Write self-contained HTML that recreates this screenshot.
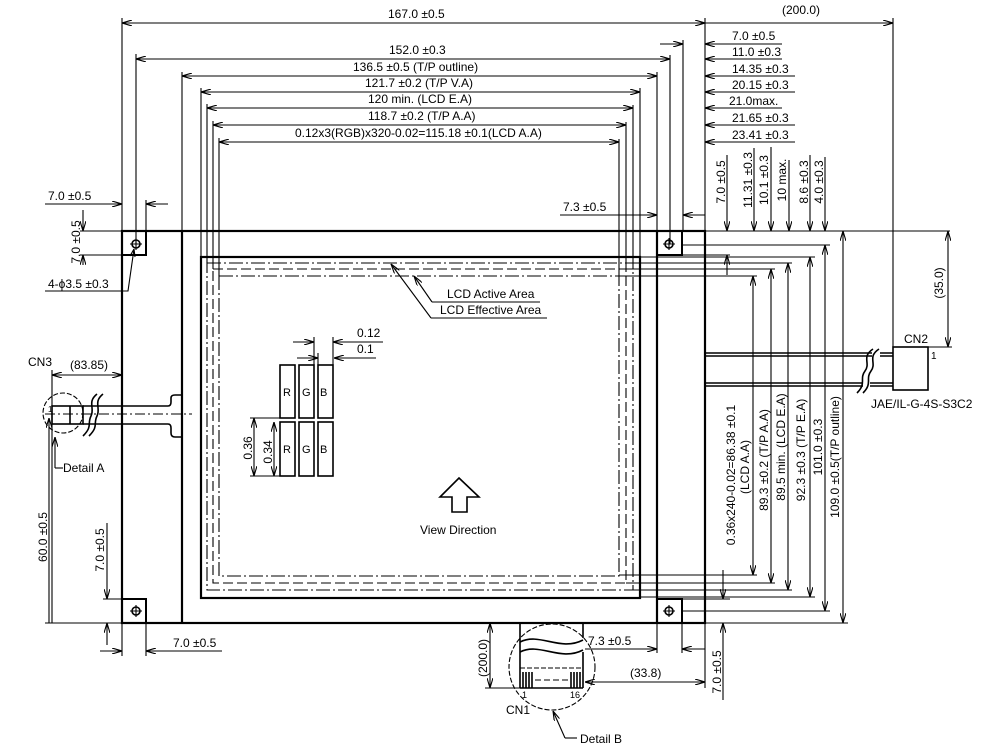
<!DOCTYPE html>
<html><head><meta charset="utf-8"><style>
html,body{margin:0;padding:0;background:#fff;}
svg{display:block;}
text{font-family:"Liberation Sans",Arial,sans-serif;font-size:12px;fill:#000;}
</style></head><body>
<svg width="1005" height="754" viewBox="0 0 1005 754" xmlns="http://www.w3.org/2000/svg">
<defs>
<marker id="a" viewBox="0 0 10 6" refX="10" refY="3" markerWidth="10" markerHeight="6" markerUnits="userSpaceOnUse" orient="auto-start-reverse"><path d="M0,0 L10,3 L0,6" fill="none" stroke="#000" stroke-width="1.1"/></marker>
</defs>
<g stroke="#000" fill="none" stroke-width="1.1">
<rect x="122" y="231" width="583" height="392" stroke-width="2.2"/>
<line x1="182" y1="231" x2="182" y2="623" stroke-width="2.2"/>
<line x1="657" y1="231" x2="657" y2="623" stroke-width="2.2"/>
<rect x="122" y="231" width="24" height="24" stroke-width="2"/>
<rect x="657" y="231" width="25" height="24" stroke-width="2"/>
<rect x="122" y="599" width="24" height="24" stroke-width="2"/>
<rect x="657" y="599" width="25" height="24" stroke-width="2"/>
<g stroke-width="1.6">
<circle cx="136" cy="244" r="4"/><circle cx="669" cy="244" r="4"/>
<circle cx="136" cy="611" r="4"/><circle cx="669" cy="611" r="4"/>
</g>
<path d="M130,244h12M136,238v12M663,244h12M669,238v12M130,611h12M136,605v12M663,611h12M669,605v12"/>
<rect x="201" y="257" width="439" height="341" stroke-width="2.2"/>
<rect x="207" y="263" width="426" height="327" stroke-dasharray="14,3,2,3"/>
<rect x="213" y="269" width="413" height="314" stroke-dasharray="10,4"/>
<rect x="219" y="276" width="400" height="300" stroke-dasharray="14,3,2,3"/>
<line x1="122" y1="23" x2="705" y2="23" marker-start="url(#a)" marker-end="url(#a)"/>
<line x1="705" y1="23" x2="893" y2="23" marker-end="url(#a)"/>
<line x1="136" y1="59" x2="670" y2="59" marker-start="url(#a)" marker-end="url(#a)"/>
<line x1="182" y1="76" x2="657" y2="76" marker-start="url(#a)" marker-end="url(#a)"/>
<line x1="201" y1="92" x2="640" y2="92" marker-start="url(#a)" marker-end="url(#a)"/>
<line x1="207" y1="108" x2="633" y2="108" marker-start="url(#a)" marker-end="url(#a)"/>
<line x1="213" y1="125" x2="626" y2="125" marker-start="url(#a)" marker-end="url(#a)"/>
<line x1="219" y1="142" x2="619" y2="142" marker-start="url(#a)" marker-end="url(#a)"/>
<path d="M122,18V231M136,54V244M182,72V231M201,88V257M207,104V263M213,121V269M219,138V276"/>
<path d="M705,18V231M893,18V347M683,40V231M670,55V244M657,72V231M640,88V257M633,105V263M626,122V269M619,139V276"/>
<line x1="660" y1="44" x2="683" y2="44" marker-end="url(#a)"/>
<line x1="782" y1="44" x2="705" y2="44" marker-end="url(#a)"/>
<line x1="782" y1="59" x2="705" y2="59" marker-end="url(#a)"/>
<line x1="795" y1="76" x2="705" y2="76" marker-end="url(#a)"/>
<line x1="795" y1="92" x2="705" y2="92" marker-end="url(#a)"/>
<line x1="782" y1="108" x2="705" y2="108" marker-end="url(#a)"/>
<line x1="795" y1="125" x2="705" y2="125" marker-end="url(#a)"/>
<line x1="795" y1="142" x2="705" y2="142" marker-end="url(#a)"/>
<line x1="560" y1="215" x2="657" y2="215" marker-end="url(#a)"/>
<line x1="705" y1="215" x2="683" y2="215" marker-end="url(#a)"/>
<line x1="727" y1="155" x2="727" y2="231" marker-end="url(#a)"/>
<line x1="727" y1="275" x2="727" y2="255" marker-end="url(#a)"/>
<line x1="754" y1="148" x2="754" y2="231" marker-end="url(#a)"/>
<line x1="771" y1="147" x2="771" y2="231" marker-end="url(#a)"/>
<line x1="789" y1="160" x2="789" y2="231" marker-end="url(#a)"/>
<line x1="810" y1="155" x2="810" y2="231" marker-end="url(#a)"/>
<line x1="825" y1="157" x2="825" y2="231" marker-end="url(#a)"/>
<path d="M705,231H950M682,245H830M682,255H730M640,257H815M633,263H792M626,269H775M619,276H757"/>
<path d="M619,575H757M626,583H775M633,590H792M640,597H815M682,599H730M682,611H830M705,623H848"/>
<line x1="753" y1="276" x2="753" y2="575" marker-start="url(#a)" marker-end="url(#a)"/>
<line x1="771" y1="269" x2="771" y2="583" marker-start="url(#a)" marker-end="url(#a)"/>
<line x1="788" y1="263" x2="788" y2="590" marker-start="url(#a)" marker-end="url(#a)"/>
<line x1="810" y1="257" x2="810" y2="597" marker-start="url(#a)" marker-end="url(#a)"/>
<line x1="825" y1="245" x2="825" y2="611" marker-start="url(#a)" marker-end="url(#a)"/>
<line x1="843" y1="231" x2="843" y2="623" marker-start="url(#a)" marker-end="url(#a)"/>
<line x1="948" y1="231" x2="948" y2="347" marker-start="url(#a)" marker-end="url(#a)"/>
<line x1="928" y1="347" x2="952" y2="347"/>
<line x1="723" y1="570" x2="723" y2="599" marker-end="url(#a)"/>
<line x1="723" y1="700" x2="723" y2="623" marker-end="url(#a)"/>
<path d="M705,353H872M705,356H872M705,383H863M705,386H863M880,353H893M880,356H893M870,383H893M870,386H893" stroke-width="1.6"/>
<path d="M873,349c-12,8 -2,14 -8,22c-6,8 2,12 -8,22M879,349c-12,8 -2,14 -8,22c-6,8 2,12 -8,22" stroke-width="1.6"/>
<rect x="893" y="347" width="35" height="43" stroke-width="1.6"/>
<line x1="45" y1="204" x2="122" y2="204" marker-end="url(#a)"/>
<line x1="168" y1="204" x2="146" y2="204" marker-end="url(#a)"/>
<path d="M146,200V231M80,231H122M80,255H122"/>
<line x1="83" y1="210" x2="83" y2="231" marker-end="url(#a)"/>
<line x1="83" y1="265" x2="83" y2="255" marker-end="url(#a)"/>
<path d="M45,291H128L134,249"/>
<path d="M134,249l-4,7M134,249l1,8"/>
<path d="M83,406H168q3,0 3,-4v-4q0,-3 4,-3h7M83,424H168q3,0 3,4v5q0,4 4,4h7" stroke-width="1.6"/>
<rect x="52" y="406" width="31" height="18" stroke-width="1.6"/>
<line x1="70" y1="406" x2="70" y2="424" stroke-width="1.6"/>
<path d="M45,414H192" stroke-dasharray="10,3,2,3"/>
<circle cx="63" cy="413" r="20" stroke-dasharray="5,2"/>
<path d="M97,394c-10,8 -2,14 -6,22c-4,8 2,10 -8,20M103,394c-10,8 -2,14 -6,22c-4,8 2,10 -8,20" stroke-width="1.6"/>
<line x1="52" y1="375" x2="122" y2="375" marker-start="url(#a)" marker-end="url(#a)"/>
<path d="M52,370V623M45,623H122M103,599H122"/>
<line x1="49" y1="623" x2="49" y2="418" marker-end="url(#a)"/>
<line x1="55" y1="468" x2="55" y2="437" marker-end="url(#a)"/>
<path d="M55,468H63"/>
<line x1="107" y1="523" x2="107" y2="599" marker-end="url(#a)"/>
<line x1="107" y1="645" x2="107" y2="623" marker-end="url(#a)"/>
<path d="M122,623V656M146,623V656"/>
<line x1="100" y1="651" x2="122" y2="651" marker-end="url(#a)"/>
<line x1="222" y1="651" x2="146" y2="651" marker-end="url(#a)"/>
<path d="M431,318H547M432,302H540"/>
<line x1="431" y1="318" x2="391" y2="264" marker-end="url(#a)"/>
<line x1="432" y1="302" x2="414" y2="276" marker-end="url(#a)"/>
<g stroke-width="1.6">
<rect x="280" y="365" width="15" height="53"/><rect x="299" y="365" width="15" height="53"/><rect x="318" y="365" width="15" height="53"/>
<rect x="280" y="422" width="15" height="54"/><rect x="299" y="422" width="15" height="54"/><rect x="318" y="422" width="15" height="54"/>
</g>
<path d="M314,337V365M333,337V365M318,353V365"/>
<line x1="293" y1="342" x2="314" y2="342" marker-end="url(#a)"/>
<line x1="383" y1="342" x2="333" y2="342" marker-end="url(#a)"/>
<line x1="297" y1="358" x2="318" y2="358" marker-end="url(#a)"/>
<line x1="376" y1="358" x2="334" y2="358" marker-end="url(#a)"/>
<path d="M250,418H280M250,476H280"/>
<line x1="254" y1="418" x2="254" y2="476" marker-start="url(#a)" marker-end="url(#a)"/>
<line x1="274" y1="422" x2="274" y2="476" marker-start="url(#a)" marker-end="url(#a)"/>
<path d="M459,478L479,497H467V512H452V497H440Z" stroke-width="1.6"/>
<path d="M520,623V688M583,623V638M583,652V688" stroke-width="1.6"/>
<path d="M520,642c20,-10 40,10 63,-2M520,652c20,-10 40,10 63,-2" stroke-width="1.6"/>
<path d="M520,668H583" stroke-dasharray="5,2"/>
<path d="M535,680H568" stroke-dasharray="6,3"/>
<path d="M520,688H583" stroke-width="1.6"/>
<path d="M523,672V688M526,672V688M529,672V688M532,672V688M571,672V688M574,672V688M577,672V688M580,672V688" stroke-width="1.6"/>
<circle cx="552" cy="667" r="43" stroke-dasharray="5,2"/>
<line x1="565" y1="738" x2="553" y2="711" marker-end="url(#a)"/>
<path d="M565,738H577"/>
<line x1="490" y1="623" x2="490" y2="688" marker-start="url(#a)" marker-end="url(#a)"/>
<path d="M485,688H520"/>
<path d="M657,623V653M682,623V653"/>
<line x1="585" y1="649" x2="657" y2="649" marker-end="url(#a)"/>
<line x1="705" y1="649" x2="682" y2="649" marker-end="url(#a)"/>
<path d="M705,623V688"/>
<line x1="585" y1="682" x2="705" y2="682" marker-start="url(#a)" marker-end="url(#a)"/>
</g>
<text x="388" y="18">167.0 ±0.5</text>
<text x="782" y="14">(200.0)</text>
<text x="389" y="54">152.0 ±0.3</text>
<text x="353" y="71">136.5 ±0.5 (T/P outline)</text>
<text x="365" y="87">121.7 ±0.2 (T/P V.A)</text>
<text x="368" y="103">120 min. (LCD E.A)</text>
<text x="368" y="120">118.7 ±0.2 (T/P A.A)</text>
<text x="295" y="137">0.12x3(RGB)x320-0.02=115.18 ±0.1(LCD A.A)</text>
<text x="732" y="40">7.0 ±0.5</text>
<text x="732" y="56">11.0 ±0.3</text>
<text x="732" y="73">14.35 ±0.3</text>
<text x="732" y="89">20.15 ±0.3</text>
<text x="729" y="105">21.0max.</text>
<text x="732" y="122">21.65 ±0.3</text>
<text x="732" y="139">23.41 ±0.3</text>
<text x="563" y="211">7.3 ±0.5</text>
<text x="48" y="200">7.0 ±0.5</text>
<text x="48" y="288">4-ϕ3.5 ±0.3</text>
<text transform="translate(80,242) rotate(-90)" text-anchor="middle">7.0 ±0.5</text>
<g text-anchor="middle">
<text transform="translate(725,182) rotate(-90)">7.0 ±0.5</text>
<text transform="translate(752,180) rotate(-90)">11.31 ±0.3</text>
<text transform="translate(768,180) rotate(-90)">10.1 ±0.3</text>
<text transform="translate(786,180) rotate(-90)">10 max.</text>
<text transform="translate(808,182) rotate(-90)">8.6 ±0.3</text>
<text transform="translate(823,182) rotate(-90)">4.0 ±0.3</text>
<text transform="translate(735,475) rotate(-90)">0.36x240-0.02=86.38 ±0.1</text>
<text transform="translate(749,467) rotate(-90)">(LCD A.A)</text>
<text transform="translate(768,460) rotate(-90)">89.3 ±0.2 (T/P A.A)</text>
<text transform="translate(785,447) rotate(-90)">89.5 min. (LCD E.A)</text>
<text transform="translate(805,450) rotate(-90)">92.3 ±0.3 (T/P E.A)</text>
<text transform="translate(822,447) rotate(-90)">101.0 ±0.3</text>
<text transform="translate(839,457) rotate(-90)">109.0 ±0.5(T/P outline)</text>
<text transform="translate(943,283) rotate(-90)">(35.0)</text>
<text transform="translate(721,672) rotate(-90)">7.0 ±0.5</text>
<text transform="translate(487,658) rotate(-90)">(200.0)</text>
<text transform="translate(47,537) rotate(-90)">60.0 ±0.5</text>
<text transform="translate(104,550) rotate(-90)">7.0 ±0.5</text>
<text transform="translate(252,448) rotate(-90)">0.36</text>
<text transform="translate(272,452) rotate(-90)">0.34</text>
</g>
<text x="904" y="343">CN2</text>
<text x="931" y="359" style="font-size:10px">1</text>
<text x="871" y="408">JAE/IL-G-4S-S3C2</text>
<text x="28" y="366">CN3</text>
<text x="70" y="369">(83.85)</text>
<text x="48" y="412" style="font-size:8px">1</text>
<text x="63" y="472">Detail A</text>
<text x="173" y="647">7.0 ±0.5</text>
<text x="447" y="298">LCD Active Area</text>
<text x="440" y="314">LCD Effective  Area</text>
<text x="357" y="337">0.12</text>
<text x="357" y="353">0.1</text>
<text x="283" y="396" style="font-size:11px">R</text>
<text x="302" y="396" style="font-size:11px">G</text>
<text x="320" y="396" style="font-size:11px">B</text>
<text x="283" y="453" style="font-size:11px">R</text>
<text x="302" y="453" style="font-size:11px">G</text>
<text x="320" y="453" style="font-size:11px">B</text>
<text x="420" y="534">View  Direction</text>
<text x="588" y="645">7.3 ±0.5</text>
<text x="630" y="677">(33.8)</text>
<text x="522" y="698" style="font-size:9px">1</text>
<text x="570" y="698" style="font-size:9px">16</text>
<text x="506" y="714">CN1</text>
<text x="580" y="743">Detail B</text>
</svg>
</body></html>
